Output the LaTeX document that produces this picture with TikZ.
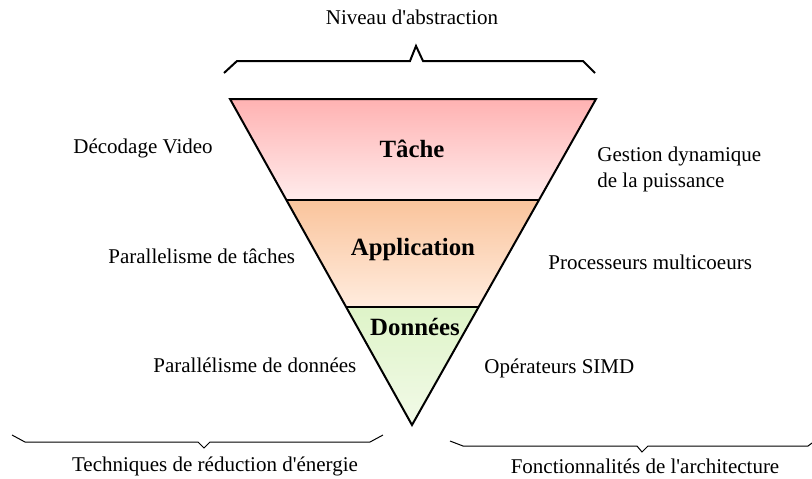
\documentclass[tikz,border=0pt]{standalone}
\usepackage{fontspec}
\setmainfont{Liberation Serif}[Ligatures=TeXOff]
\usetikzlibrary{calc}
\definecolor{tachetop}{RGB}{255,178,178}
\definecolor{tachebot}{RGB}{255,236,236}
\definecolor{appltop}{RGB}{250,196,156}
\definecolor{applbot}{RGB}{255,236,222}
\definecolor{donntop}{RGB}{222,244,200}
\definecolor{donnbot}{RGB}{242,250,232}

\begin{document}
\begin{tikzpicture}[x=0.5pt,y=-0.5pt,
    lbl/.style={font=\fontsize{10.5}{13}\selectfont,inner sep=0pt},
    layer/.style={font=\bfseries\fontsize{12.4}{14}\selectfont,inner sep=0pt},
    bigbrace/.style={line width=1pt,line join=miter},
    smallbrace/.style={line width=0.5pt}]
      \useasboundingbox (0,0) rectangle (812,478);

      % triangle corners and layer limits
      \coordinate (tl) at (230,99);
      \coordinate (tr) at (596,99);
      \coordinate (apex) at (412,425);
      \coordinate (l1) at ($(tl)!0.31!(apex)$);
      \coordinate (r1) at ($(tr)!0.31!(apex)$);
      \coordinate (l2) at ($(tl)!0.638!(apex)$);
      \coordinate (r2) at ($(tr)!0.638!(apex)$);

      \shade[top color=tachetop,bottom color=tachebot] (tl) -- (tr) -- (r1) -- (l1) -- cycle;
      \shade[top color=appltop,bottom color=applbot] (l1) -- (r1) -- (r2) -- (l2) -- cycle;
      \shade[top color=donntop,bottom color=donnbot] (l2) -- (r2) -- (apex) -- cycle;
      \draw[line width=1pt,line join=miter] (tl) -- (tr) -- (apex) -- cycle;
      \draw[line width=1pt] (l1) -- (r1);
      \draw[line width=1pt] (l2) -- (r2);

      \node[layer] (tache) at (412,149) {Tâche};
      \node[layer] (appli) at (413,250) {Application};
      \node[layer] (donnees) at (415,327) {Données};

      % braces
      \draw[bigbrace] (224,73) -- (237,61) -- (410,61) -- (416,46) -- (423,61) -- (583,61) -- (595,73);
      \draw[smallbrace] (12,435) -- (25,442) -- (198,442) -- (204,448) -- (210,442) -- (370,442) -- (383,435);
      \draw[smallbrace] (450,441) -- (463,446) -- (637,446) -- (642,452) -- (648,446) -- (808,446) -- (812,443);

      \node[lbl] (niveau) at (412,17) {Niveau d'abstraction};
      \node[lbl] (techniques) at (215,466) {Techniques de réduction d'énergie};
      \node[lbl] (fonction) at (645,466) {Fonctionnalités de l'architecture};

      % left column
      \node[lbl,anchor=west] (decodage) at (73,148) {Décodage Video};
      \node[lbl,anchor=west] (partaches) at (108,256) {Parallelisme de tâches};
      \node[lbl,anchor=west] (pardonnees) at (153,365) {Parallélisme de données};

      % right column
      \node[lbl,anchor=west,align=left] (gestion) at (597,169) {Gestion dynamique\\de la puissance};
      \node[lbl,anchor=west] (multicoeurs) at (548,262) {Processeurs multicoeurs};
      \node[lbl,anchor=west] (simd) at (484,368) {Opérateurs SIMD};
    \end{tikzpicture}
\end{document}
